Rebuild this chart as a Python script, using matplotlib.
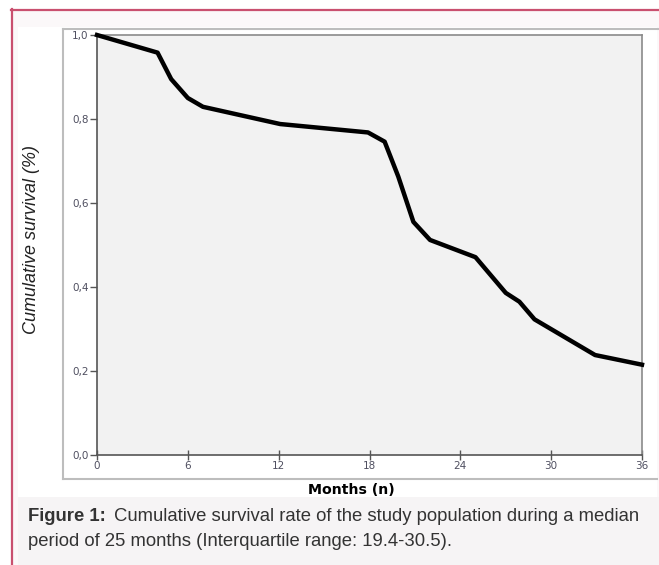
import matplotlib.pyplot as plt
from matplotlib.patches import Rectangle
from matplotlib.lines import Line2D

# Kaplan-Meier style curve
months = [0, 4.0, 4.9, 6.0, 7.0, 12.1, 17.9, 19.0, 19.9, 20.9, 22.0, 25.0, 27.0, 27.9, 28.9, 32.9, 36.0]
survival = [1.0, 0.958, 0.895, 0.850, 0.829, 0.788, 0.768, 0.746, 0.663, 0.555, 0.512, 0.471, 0.386, 0.365, 0.323, 0.238, 0.215]

x_ticks = [0, 6, 12, 18, 24, 30, 36]
y_ticks = [0.0, 0.2, 0.4, 0.6, 0.8, 1.0]
y_ticklabels = ['0,0', '0,2', '0,4', '0,6', '0,8', '1,0']

W, H = 659, 565
fig = plt.figure(figsize=(W / 100, H / 100), dpi=100)
fig.patch.set_facecolor('white')

def box(x0, y0, x1, y1, **kw):
    # pixel box, origin top-left
    r = Rectangle((x0 / W, 1 - y1 / H), (x1 - x0) / W, (y1 - y0) / H,
                  transform=fig.transFigure, zorder=-10, **kw)
    fig.patches.append(r)

def hline(x0, x1, y, **kw):
    fig.lines.append(Line2D([x0 / W, x1 / W], [1 - y / H, 1 - y / H],
                            transform=fig.transFigure, zorder=-5, **kw))

def vline(x, y0, y1, **kw):
    fig.lines.append(Line2D([x / W, x / W], [1 - y0 / H, 1 - y1 / H],
                            transform=fig.transFigure, zorder=-5, **kw))

# panel backgrounds
box(12, 10, 659, 565, facecolor='#fbf8f9', edgecolor='none')
box(18, 27, 657, 497, facecolor='white', edgecolor='none')
box(18, 497, 659, 565, facecolor='#f6f4f5', edgecolor='none')

# grey frame of the chart image
hline(63, 659, 29, color='#bdbdbd', lw=1.5)
hline(63, 657, 479, color='#bdbdbd', lw=1.5)
vline(63, 29, 479, color='#bdbdbd', lw=1.5)

# pink page border
hline(11, 659, 10, color='#c9506f', lw=1.6)
vline(12, 9, 565, color='#c9506f', lw=1.6)

ax = fig.add_axes([97 / W, 1 - 455 / H, 545 / W, 420 / H])
ax.set_zorder(5)
ax.set_facecolor('#f2f2f2')
ax.plot(months, survival, color='black', lw=3.2, solid_joinstyle='round', clip_on=False, zorder=3)
ax.set_xlim(0, 36)
ax.set_ylim(0, 1.0)
ax.set_xticks(x_ticks)
ax.set_xticklabels([str(t) for t in x_ticks])
ax.set_yticks(y_ticks)
ax.set_yticklabels(y_ticklabels)
ax.tick_params(axis='x', direction='inout', length=7, width=1, color='#555555',
               labelsize=7.5, labelcolor='#4f4f60', pad=1)
ax.tick_params(axis='y', direction='out', length=5, width=1, color='#555555',
               labelsize=7.5, labelcolor='#4f4f60', pad=1)
for s in ['left', 'bottom']:
    ax.spines[s].set_color('#555555')
    ax.spines[s].set_linewidth(1.2)
for s in ['top', 'right']:
    ax.spines[s].set_color('#8a8a8a')
    ax.spines[s].set_linewidth(1.2)

fig.text(31 / W, 1 - 240 / H, 'Cumulative survival (%)', rotation=90, ha='center', va='center',
         fontsize=13, style='italic', family='Liberation Sans', color='#222222')
fig.text(351 / W, 1 - 490 / H, 'Months (n)', ha='center', va='center',
         fontsize=10.2, fontweight='bold', family='DejaVu Sans', color='black')

# caption
fig.text(28 / W, 1 - 521 / H, 'Figure 1:', ha='left', va='baseline', fontsize=13.3,
         fontweight='bold', family='Liberation Sans', color='#333333')
fig.text(114 / W, 1 - 521 / H, 'Cumulative survival rate of the study population during a median',
         ha='left', va='baseline', fontsize=13.3, family='Liberation Sans', color='#333333')
fig.text(28 / W, 1 - 546 / H, 'period of 25 months (Interquartile range: 19.4-30.5).',
         ha='left', va='baseline', fontsize=13.3, family='Liberation Sans', color='#333333')

fig.savefig('out.png', dpi=100, facecolor=fig.get_facecolor())
